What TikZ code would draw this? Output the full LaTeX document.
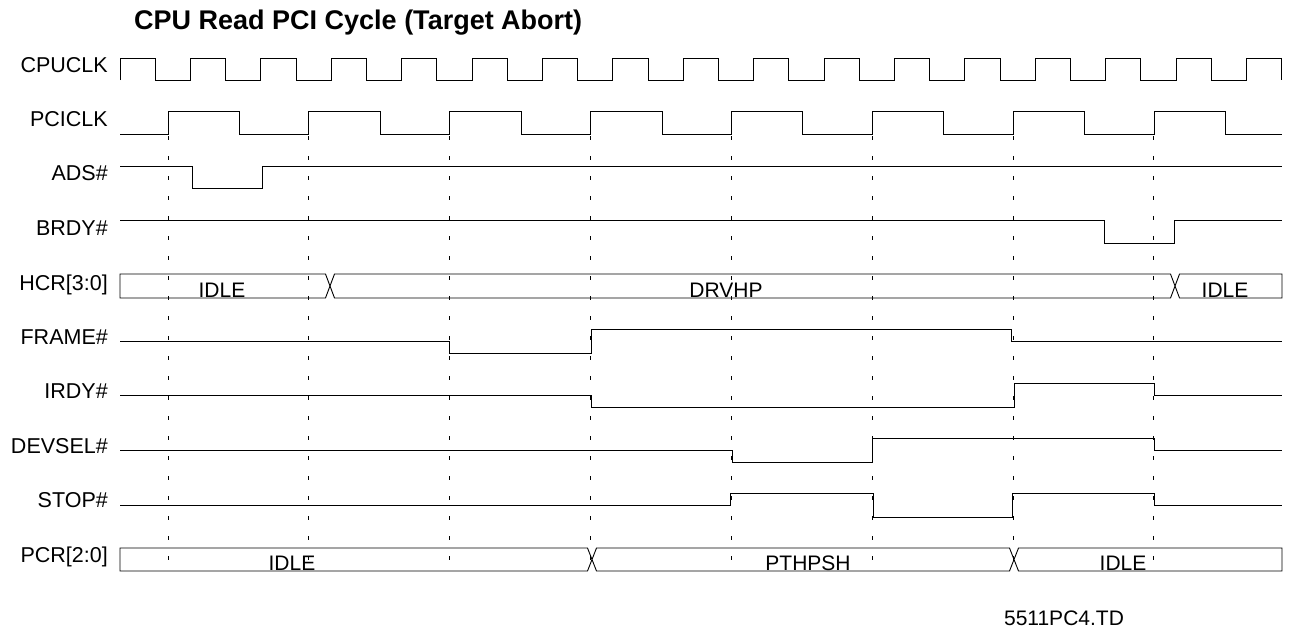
\documentclass[tikz,border=0pt]{standalone}
\usepackage{fontspec}
\setmainfont{Liberation Sans}
\tikzset{
  wave/.style     = {draw=black, line width=0.9pt, line join=miter},
  guide/.style    = {draw=black, line width=1pt, dash pattern=on 4pt off 16pt},
  siglabel/.style = {anchor=base east, inner sep=0pt,
                     font=\fontsize{21.5}{24}\selectfont},
  bustext/.style  = {anchor=base, inner sep=0pt,
                     font=\fontsize{21}{24}\selectfont},
  title/.style    = {anchor=base west, inner sep=0pt,
                     font=\bfseries\fontsize{27}{30}\selectfont}
}

\begin{document}
\begin{tikzpicture}
  [
    x = 1pt,
    y = -1pt
  ]
  \useasboundingbox (0,0) rectangle (1289,630);

  \node [title] (heading) at (134,29) {CPU Read PCI Cycle (Target Abort)};

  % signal names
  \node [siglabel] (cpuclk) at (108,72)  {CPUCLK};
  \node [siglabel] (pciclk) at (108,126) {PCICLK};
  \node [siglabel] (ads)    at (108,180) {ADS\#};
  \node [siglabel] (brdy)   at (108,235) {BRDY\#};
  \node [siglabel] (hcr)    at (108,290) {HCR[3:0]};
  \node [siglabel] (frame)  at (108,344) {FRAME\#};
  \node [siglabel] (irdy)   at (108,398) {IRDY\#};
  \node [siglabel] (devsel) at (108,453) {DEVSEL\#};
  \node [siglabel] (stop)   at (108,507) {STOP\#};
  \node [siglabel] (pcr)    at (108,562) {PCR[2:0]};

  % PCI clock edges
  \foreach \k in {0,...,7}
    \draw [guide] ({168+140.85*\k},136) -- ({168+140.85*\k},571);

  % clocks
  \draw [wave] (120,80) -- (120,58)
    \foreach \k in {0,...,15} {
      -- ({155.2+70.4*\k},58) -- ({155.2+70.4*\k},80)
      -- ({190.4+70.4*\k},80) -- ({190.4+70.4*\k},58) }
    -- (1281.6,58) -- (1281.6,80);
  \draw [wave] (120,134)
    \foreach \k in {0,...,7} {
      -- ({168+140.85*\k},134) -- ({168+140.85*\k},111)
      -- ({239.5+140.85*\k},111) -- ({239.5+140.85*\k},134) }
    -- (1282,134);

  % host side
  \draw [wave] (120,166) -| (192,188) -| (262,166) -- (1282,166);
  \draw [wave] (120,220) -| (1104,243) -| (1174,220) -- (1282,220);
  \draw [wave] (325.5,274) -| (120,298) -- (325.5,298) -- (334.5,274)
    -- (1170.5,274) -- (1179.5,298) -- (1282,298) |- (1179.5,274)
    -- (1170.5,298) -- (334.5,298) -- cycle;
  \node [bustext] (hcridle)  at (222,297)  {IDLE};
  \node [bustext] (hcrdrv)   at (726,297)  {DRVHP};
  \node [bustext] (hcridle2) at (1225,297) {IDLE};

  % PCI side
  \draw [wave] (120,341) -| (449,353) -| (591,329) -| (1011,341) -- (1282,341);
  \draw [wave] (120,395) -| (591,407) -| (1014,383) -| (1154,395) -- (1282,395);
  \draw [wave] (120,450) -| (732,462) -| (872,438) -| (1154,450) -- (1282,450);
  \draw [wave] (120,505) -| (730,493) -| (873,517) -| (1012,493) -| (1154,505) -- (1282,505);
  \draw [wave] (587.5,548) -| (120,571) -- (587.5,571) -- (596.5,548)
    -- (1009.5,548) -- (1018.5,571) -- (1282,571) |- (1018.5,548)
    -- (1009.5,571) -- (596.5,571) -- cycle;
  \node [bustext] (pcridle)  at (292,570)  {IDLE};
  \node [bustext] (pcrpth)   at (808,570)  {PTHPSH};
  \node [bustext] (pcridle2) at (1123,570) {IDLE};

  \node [bustext] (figid) at (1064,625) {5511PC4.TD};
\end{tikzpicture}
\end{document}
